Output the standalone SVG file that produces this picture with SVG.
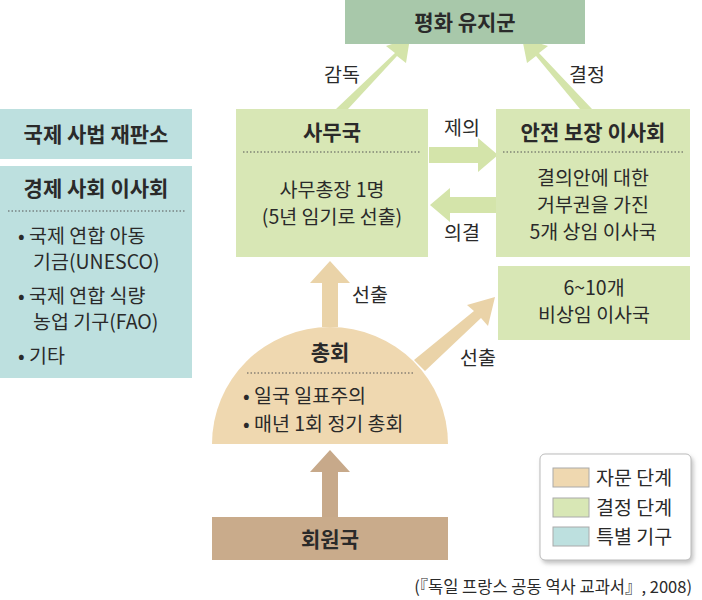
<svg xmlns="http://www.w3.org/2000/svg" width="702" height="600" viewBox="0 0 702 600">
<defs>
<style>
text{font-family:"Noto Sans CJK KR","Noto Sans",sans-serif;fill:#2a2a2a;}
.t{font-size:21px;font-weight:700;text-anchor:middle;}
.b{font-size:19.5px;text-anchor:middle;}
.l{font-size:19.5px;}
.g{fill:#d8e7b5;}
.c{fill:#bde0df;}
.dot{stroke:#555;stroke-width:1;stroke-dasharray:1.5 2;}
.ga{fill:#d4e4aa;}
.ta{fill:#ead3a8;}
</style>
<filter id="sh" x="-10%" y="-10%" width="130%" height="130%"><feDropShadow dx="2" dy="3" stdDeviation="2" flood-color="#999" flood-opacity="0.6"/></filter>
</defs>
<rect width="702" height="600" fill="#fff"/>
<g id="connectors">
<polygon class="ga" points="336,109 348,109 397,56 406,63 410,38 386,46 395,53"/>
<polygon class="ga" points="580,109 592,109 539,53 548,46 522,38 527,63 536,56"/>
<polygon class="ga" points="429,147 478,147 478,138 498,155 478,172 478,163 429,163"/>
<polygon class="ga" points="496,197 450,197 450,188 430,205 450,222 450,213 496,213"/>
<polygon class="ta" points="322,327 338,327 338,283 350,283 330,261 310,283 322,283"/>
<polygon class="ta" points="414,360 425,371 481,318 488,326 495,297 467,305 474,311"/>
<polygon fill="#c7a98a" points="322,517 338,517 338,472 350,472 330,450 310,472 322,472"/>
<text class="b" x="342" y="82">감독</text>
<text class="b" x="587" y="82">결정</text>
<text class="b" x="462" y="135">제의</text>
<text class="b" x="462" y="240">의결</text>
<text class="b" x="370" y="302">선출</text>
<text class="b" x="478" y="365">선출</text>
</g>
<g id="peace"><rect x="345" y="0" width="240" height="44" fill="#a8c8aa"/><text class="t" x="465" y="30">평화 유지군</text></g>
<g id="secretariat"><rect class="g" x="236" y="109" width="192" height="148"/><text class="t" x="332" y="140">사무국</text><line class="dot" x1="243" y1="152" x2="421" y2="152"/><text class="b" x="332" y="197">사무총장 1명</text><text class="b" x="332" y="224">(5년 임기로 선출)</text></g>
<g id="council"><rect class="g" x="496" y="109" width="194" height="148"/><text class="t" x="593" y="140">안전 보장 이사회</text><line class="dot" x1="503" y1="152" x2="683" y2="152"/><text class="b" x="593" y="185">결의안에 대한</text><text class="b" x="593" y="212">거부권을 가진</text><text class="b" x="593" y="239">5개 상임 이사국</text></g>
<g id="nonperm"><rect class="g" x="498" y="266" width="192" height="74"/><text class="b" x="594" y="295">6~10개</text><text class="b" x="594" y="322">비상임 이사국</text></g>
<g id="icj"><rect class="c" x="0" y="109" width="192" height="50"/><text class="t" x="96" y="142">국제 사법 재판소</text></g>
<g id="ecosoc"><rect class="c" x="0" y="166" width="192" height="212"/><text class="t" x="96" y="196">경제 사회 이사회</text><line class="dot" x1="8" y1="211" x2="185" y2="211"/>
<text class="l" x="18" y="243">• 국제 연합 아동</text><text class="l" x="33" y="269">기금(UNESCO)</text><text class="l" x="18" y="303">• 국제 연합 식량</text><text class="l" x="33" y="329">농업 기구(FAO)</text><text class="l" x="18" y="363">• 기타</text></g>
<g id="assembly"><path d="M212,444 A118,117 0 0 1 448,444 Z" fill="#efd8b0"/><text class="t" x="330" y="360">총회</text><line class="dot" x1="247" y1="373" x2="414" y2="373"/><text class="l" x="243" y="403">• 일국 일표주의</text><text class="l" x="243" y="431">• 매년 1회 정기 총회</text></g>
<g id="members"><rect x="212" y="517" width="236" height="43" fill="#c9ab8b"/><text class="t" x="330" y="547">회원국</text></g>
<g id="legend"><rect x="540" y="454" width="151" height="106" rx="5" fill="#fff" stroke="#bbb" filter="url(#sh)"/>
<rect x="553" y="468" width="36" height="19" fill="#efd8b0" stroke="#aaa"/><text class="l" x="596" y="485">자문 단계</text>
<rect x="553" y="498" width="36" height="19" fill="#d8e7b5" stroke="#aaa"/><text class="l" x="596" y="515">결정 단계</text>
<rect x="553" y="527" width="36" height="19" fill="#bde0df" stroke="#aaa"/><text class="l" x="596" y="544">특별 기구</text></g>
<text x="692" y="593" style="font-size:16.5px;text-anchor:end">(『독일 프랑스 공동 역사 교과서』, 2008)</text>
</svg>
